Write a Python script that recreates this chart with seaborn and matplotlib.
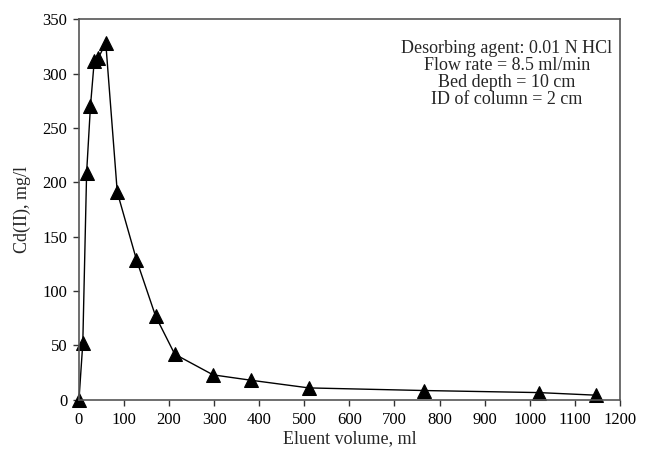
import numpy as np
import pandas as pd
import matplotlib
matplotlib.use("Agg")
import matplotlib.pyplot as plt
import seaborn as sns

# Elution curve
eluent_volume = [0, 8.5, 17, 25.5, 34, 42.5, 59.5, 85, 127.5, 170, 212.5,
                 297.5, 382.5, 510, 765, 1020, 1147.5]
cd_conc = [0, 52, 209, 270, 312, 314, 328, 191, 129, 77, 42,
           23, 18, 11, 8.6, 6.7, 4.3]

x_ticks = list(range(0, 1201, 100))
y_ticks = list(range(0, 351, 50))

annotation = ("Desorbing agent: 0.01 N HCl\n"
              "Flow rate = 8.5 ml/min\n"
              "Bed depth = 10 cm\n"
              "ID of column = 2 cm")


def plot_elution(df):
    fig = plt.figure(figsize=(6.58, 4.57), dpi=100)
    ax = fig.add_axes([0.120, 0.125, 0.822, 0.833])

    sns.lineplot(data=df, x="volume", y="cd", ax=ax, color="black",
                 linewidth=1.0, marker="^", markersize=9.5,
                 markeredgecolor="black", markerfacecolor="black",
                 sort=False, clip_on=False)

    ax.set_xlim(0, 1200)
    ax.set_ylim(0, 350)
    ax.set_xticks(x_ticks)
    ax.set_yticks(y_ticks)
    ax.tick_params(direction="out", length=4, width=1, labelsize=12,
                   pad=4.5, colors="#333333", labelcolor="black")
    for sp in ax.spines.values():
        sp.set_visible(True)
        sp.set_color("#555555")
        sp.set_linewidth(1.2)

    ax.set_xlabel("Eluent volume, ml", fontsize=13, labelpad=2)
    ax.set_ylabel("Cd(II), mg/l", fontsize=13, labelpad=8)

    ax.text(0.791, 0.945, annotation, transform=ax.transAxes, ha="center",
            va="top", fontsize=13, linespacing=1.0, multialignment="center")
    return fig


if __name__ == "__main__":
    sns.set_style("ticks")
    plt.rcParams["font.family"] = ["Liberation Serif", "DejaVu Serif"]
    plt.rcParams["mathtext.fontset"] = "stix"

    df = pd.DataFrame({"volume": eluent_volume, "cd": cd_conc})
    fig = plot_elution(df)
    fig.savefig("out.png", dpi=100)
